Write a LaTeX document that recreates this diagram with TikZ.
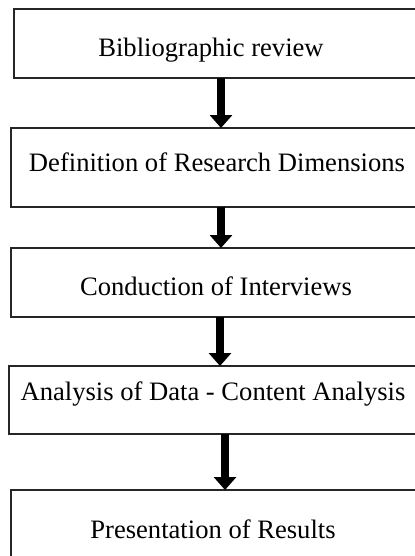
\documentclass[tikz,border=0pt]{standalone}
\usepackage{fontspec}
\setmainfont{Liberation Serif}
\usetikzlibrary{arrows.meta, positioning}
\tikzset{
  stagebox/.style={draw=black!85, line width=0.6pt, fill=white, inner sep=0pt,
    outer sep=0pt, anchor=north west},
  stagetext/.style={anchor=base, inner sep=0pt, font=\fontsize{13.3}{16}\selectfont},
  stagearrow/.style={-{Triangle[length=6.5pt, width=11pt]}, line width=4pt, black},
}

\begin{document}
\begin{tikzpicture}[x=0.5pt,y=-0.5pt]
  \useasboundingbox (0,0) rectangle (415,556);
  \clip (0,0) rectangle (415,556);
  % Kaesten (rechter Rand liegt ausserhalb des Bildes)
  \foreach \i/\x/\y/\h in {1/14/9/69,2/11/128/79,3/11/248/69,4/9/366/68,5/11/490/80} {
    \node[stagebox, minimum height=\h*0.5pt, minimum width={(430-\x)*0.5pt}] (box\i) at (\x,\y) {};
  }
  \foreach \i/\x/\y/\txt in {1/211/57/Bibliographic review,
      2/217/171/Definition of Research Dimensions,
      3/216/295/Conduction of Interviews,
      4/213/400/Analysis of Data - Content Analysis,
      5/213/538/Presentation of Results} {
    \node[stagetext] (label\i) at (\x,\y) {\txt};
  }
  % Pfeile
  \foreach \i/\j/\x in {1/2/221,2/3/221,3/4/220,4/5/225} {
    \coordinate (a\i) at (\x,0);
    \draw[stagearrow] (box\i.south -| a\i) -- (box\j.north -| a\i);
  }
\end{tikzpicture}
\end{document}
